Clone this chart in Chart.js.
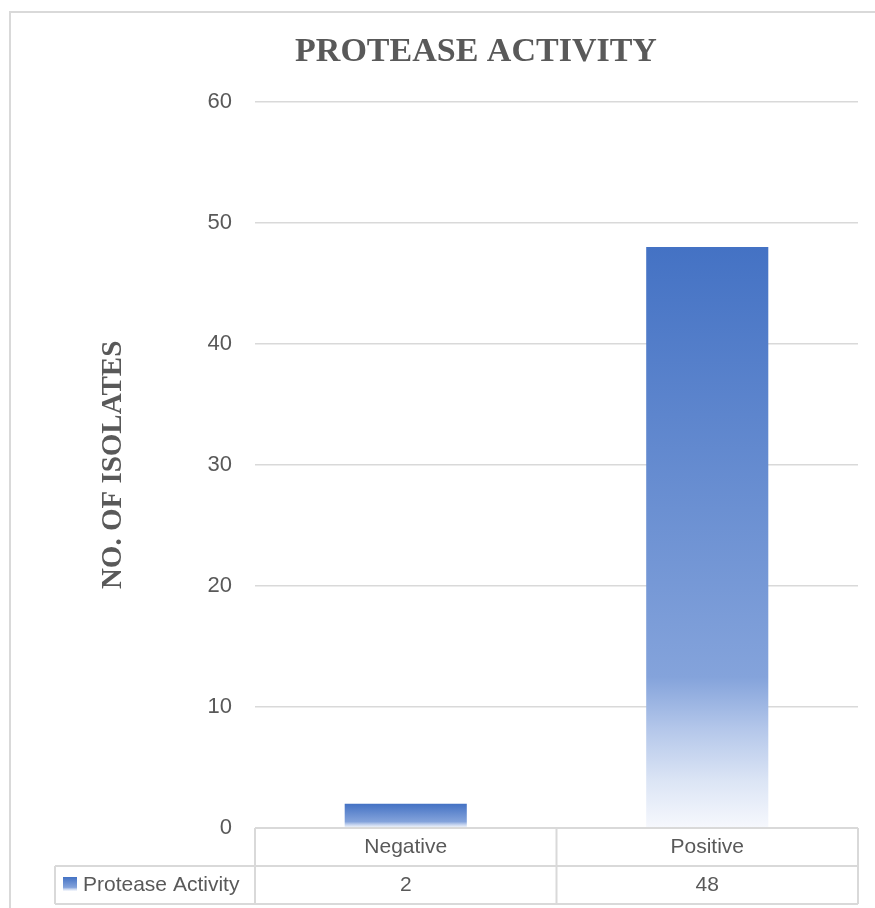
<!DOCTYPE html>
<html>
<head>
<meta charset="utf-8">
<script src="https://cdn.jsdelivr.net/npm/chart.js@4/dist/chart.umd.min.js"></script>
<style>
  html, body { margin: 0; padding: 0; background: #ffffff; }
  #wrap { position: relative; width: 875px; height: 908px; }
</style>
</head>
<body>
<div id="wrap"><canvas id="chart"></canvas></div>
<script>
// Chart data
const categories = ['Negative', 'Positive'];
const seriesName = 'Protease Activity';
const proteaseValues = [2, 48];
const yMin = 0;
const yMax = 60;
const yStep = 10;
const chartTitle = 'PROTEASE ACTIVITY';
const yAxisTitle = 'NO. OF ISOLATES';

const TEXT_GREY = '#595959';
const LINE_GREY = '#d9d9d9';
const SANS = '"Liberation Sans", Arial, sans-serif';
const SERIF = '"Liberation Serif", "Times New Roman", serif';

// Blue-to-white vertical fill used for the bars and the table key
function blueFade(ctx, top, bottom) {
  const g = ctx.createLinearGradient(0, top, 0, bottom);
  g.addColorStop(0, '#4472C4');
  g.addColorStop(0.74, '#84A3DB');
  g.addColorStop(0.83, '#B4C7EA');
  g.addColorStop(0.92, '#DCE5F5');
  g.addColorStop(1, '#F6F8FD');
  return g;
}

// Outer frame and the data table under the plot
const frameAndTable = {
  id: 'frameAndTable',
  beforeDraw(chart) {
    const c = chart.ctx;
    c.save();
    c.fillStyle = '#ffffff';
    c.fillRect(0, 0, chart.width, chart.height);
    c.strokeStyle = LINE_GREY;
    c.lineWidth = 2;
    c.beginPath();
    c.moveTo(10, chart.height);
    c.lineTo(10, 12);
    c.lineTo(chart.width, 12);
    c.stroke();
    c.restore();
  },
  afterDraw(chart) {
    const c = chart.ctx;
    const area = chart.chartArea;
    const x = chart.scales.x;
    const rowH = 38;
    const row1Top = area.bottom;
    const row2Top = row1Top + rowH;
    const row2Bottom = row2Top + rowH;
    const tableLeft = 55;
    const centers = categories.map((_, i) => x.getPixelForValue(i));
    const dividers = [area.left];
    for (let i = 0; i < centers.length - 1; i++) dividers.push((centers[i] + centers[i + 1]) / 2);
    dividers.push(area.right);

    c.save();
    c.strokeStyle = LINE_GREY;
    c.lineWidth = 2;
    c.beginPath();
    // horizontal rules
    c.moveTo(area.left, row1Top); c.lineTo(area.right, row1Top);
    c.moveTo(tableLeft, row2Top); c.lineTo(area.right, row2Top);
    c.moveTo(tableLeft, row2Bottom); c.lineTo(area.right, row2Bottom);
    // vertical rules
    dividers.forEach(d => { c.moveTo(d, row1Top); c.lineTo(d, row2Bottom); });
    c.moveTo(tableLeft, row2Top); c.lineTo(tableLeft, row2Bottom);
    c.stroke();

    c.fillStyle = TEXT_GREY;
    c.font = '21px ' + SANS;
    c.textBaseline = 'middle';
    c.textAlign = 'center';
    categories.forEach((cat, i) => {
      c.fillText(cat, centers[i], row1Top + rowH / 2);
      c.fillText(String(proteaseValues[i]), centers[i], row2Top + rowH / 2);
    });

    // series key
    const keyTop = row2Top + 11;
    c.fillStyle = blueFade(c, keyTop, keyTop + 14);
    c.fillRect(63, keyTop, 14, 14);
    c.fillStyle = TEXT_GREY;
    c.textAlign = 'left';
    c.fillText(seriesName, 83, row2Top + rowH / 2);
    c.restore();
  }
};

new Chart(document.getElementById('chart'), {
  type: 'bar',
  data: {
    labels: categories,
    datasets: [{
      label: seriesName,
      data: proteaseValues,
      barPercentage: 0.405,
      categoryPercentage: 1,
      borderWidth: 0,
      backgroundColor(ctx) {
        const chart = ctx.chart;
        if (!chart.chartArea || ctx.type !== 'data' || !ctx.parsed) return '#4472C4';
        const y = chart.scales.y;
        const top = y.getPixelForValue(ctx.parsed.y);
        const base = y.getPixelForValue(0);
        return blueFade(chart.ctx, top, base);
      }
    }]
  },
  options: {
    responsive: true,
    maintainAspectRatio: false,
    animation: false,
    layout: { padding: { left: 94, right: 17, top: 0, bottom: 80 } },
    plugins: {
      legend: { display: false },
      tooltip: { enabled: false },
      title: {
        display: true,
        text: chartTitle,
        color: TEXT_GREY,
        font: { family: SERIF, size: 34, weight: 'bold' },
        padding: { top: 32, bottom: 29 }
      }
    },
    scales: {
      x: {
        display: false
      },
      y: {
        min: yMin,
        max: yMax,
        ticks: {
          stepSize: yStep,
          color: TEXT_GREY,
          font: { family: SANS, size: 22 },
          padding: 23
        },
        grid: { color: LINE_GREY, lineWidth: 1.5, drawTicks: false },
        border: { display: false },
        title: {
          display: true,
          text: yAxisTitle,
          color: TEXT_GREY,
          font: { family: SERIF, size: 29, weight: 'bold' },
          padding: { top: 2, bottom: 0 }
        },
        afterFit(scale) { scale.width = 161; }
      }
    }
  },
  plugins: [frameAndTable]
});
</script>
</body>
</html>
